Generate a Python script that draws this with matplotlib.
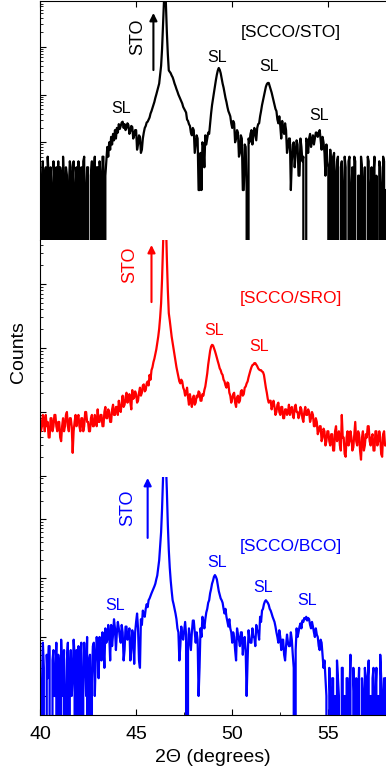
import numpy as np
import matplotlib
matplotlib.use("Agg")
import matplotlib.pyplot as plt
from matplotlib.ticker import LogLocator, MultipleLocator, NullFormatter

plt.rcParams["font.family"] = ["Liberation Sans", "DejaVu Sans"]

# 2-theta grid, 0.05 degree steps from 40 to 58
two_theta = np.linspace(40.0, 58.0, 361)

# counts, one row per degree (0 = no counts)
counts_sto = [
    3, 0, 1, 4, 0, 2, 3, 0, 5, 2, 0, 3, 1, 0, 4, 2, 0, 3, 1, 4,
    0, 3, 2, 0, 5, 1, 0, 3, 2, 0, 1, 4, 3, 0, 2, 4, 0, 1, 3, 0,
    4, 0, 2, 3, 0, 4, 5, 0, 1, 3, 3, 0, 0, 2, 4, 0, 2, 5, 0, 3,
    3, 0, 4, 2, 0, 5, 5, 0, 2, 4, 8, 5, 10, 7, 13, 9, 15, 11, 18, 12,
    20, 16, 24, 19, 22, 26, 27, 20, 24, 18, 20, 25, 23, 15, 17, 22, 21, 12, 14, 18,
    18, 7, 9, 14, 13, 6, 7, 12, 16, 20, 22, 26, 27, 30, 33, 40, 45, 52, 60, 70,
    85, 100, 120, 145, 170, 260, 400, 900, 3000, 9000, 30000, 8000, 2000, 700, 320, 300, 280, 250, 230, 200,
    170, 150, 130, 115, 100, 90, 80, 72, 65, 55, 50, 46, 42, 30, 28, 24, 22, 16, 14, 20,
    18, 6, 9, 14, 12, 1, 1, 6, 1, 10, 8, 3, 14, 9, 12, 16, 15, 25, 40, 60,
    80, 110, 150, 200, 260, 320, 360, 330, 280, 220, 170, 140, 110, 85, 70, 55, 45, 40, 35, 25,
    20, 28, 25, 10, 12, 18, 16, 5, 6, 14, 12, 1, 1, 9, 8, 1, 0, 12, 10, 15,
    18, 9, 14, 20, 15, 11, 20, 24, 25, 35, 45, 60, 75, 95, 120, 145, 165, 175, 175, 150,
    130, 110, 90, 75, 60, 50, 45, 30, 25, 35, 22, 12, 28, 18, 15, 25, 18, 6, 8, 12,
    12, 1, 4, 9, 10, 3, 6, 11, 9, 2, 2, 12, 8, 4, 5, 0, 0, 12, 10, 6,
    12, 15, 8, 11, 14, 9, 12, 16, 16, 13, 15, 18, 11, 7, 13, 10, 6, 2, 9, 4,
    3, 0, 7, 2, 0, 5, 6, 0, 2, 4, 5, 0, 0, 3, 4, 1, 0, 5, 3, 0,
    0, 4, 5, 0, 1, 3, 0, 5, 4, 0, 0, 2, 2, 0, 5, 3, 0, 1, 3, 0,
    0, 5, 4, 0, 1, 3, 0, 2, 5, 0, 2, 0, 0, 4, 3, 1, 0, 5, 4, 0,
    1,
]

counts_sro = [
    8, 5, 6, 9, 7, 5, 9, 6, 7, 4, 4, 8, 8, 5, 6, 9, 9, 6, 5, 7,
    7, 4, 3.5, 6, 8, 5, 6, 9, 10, 6, 5, 8, 8, 6, 2.3, 5, 7, 9, 6, 8,
    9, 6, 5, 8, 8, 5, 6, 10, 10, 7, 7, 5, 5, 8, 9, 6, 6, 9, 8, 6,
    11, 7, 7, 9, 9, 6, 6, 10, 12, 8, 8, 11, 10, 7, 7, 11, 13, 9, 9, 12,
    12, 9, 15, 11, 10, 14, 18, 12, 13, 17, 20, 14, 16, 19, 14, 11, 22, 16, 17, 21,
    19, 14, 15, 20, 24, 18, 20, 26, 27, 21, 22, 28, 30, 26, 38, 32, 45, 50, 60, 68,
    80, 95, 120, 150, 200, 300, 500, 1200, 4000, 12000, 40000, 10000, 2500, 800, 350, 270, 200, 150, 120, 95,
    75, 60, 50, 42, 35, 30, 28, 32, 30, 24, 22, 18, 20, 24, 17, 13, 19, 15, 12, 16,
    18, 13, 14, 18, 17, 21, 20, 15, 15, 19, 18, 22, 25, 32, 40, 55, 70, 90, 105, 112,
    110, 100, 90, 80, 70, 62, 55, 48, 45, 40, 38, 32, 30, 26, 24, 29, 28, 20, 18, 14,
    16, 19, 20, 14, 12, 17, 18, 14, 15, 21, 22, 18, 19, 24, 25, 28, 30, 35, 40, 45,
    50, 54, 55, 58, 58, 55, 52, 48, 46, 45, 45, 43, 42, 38, 30, 24, 20, 16, 14, 15,
    15, 11, 13, 15, 12, 9, 10, 13, 14, 10, 9, 12, 12, 8, 8, 11, 11, 9, 10, 13,
    9, 11, 12, 9, 8, 12, 13, 10, 10, 8, 9, 12, 11, 8, 7, 10, 12, 9, 9, 11,
    10, 7, 8, 10, 9, 6, 6, 8, 7, 4.5, 5, 6, 6, 3.5, 4, 5.5, 5, 3, 3.5, 5,
    5, 3.5, 3, 4.5, 4.5, 2.5, 2.5, 5, 6, 3.5, 4, 5, 3, 2.5, 9, 4, 4, 2.2, 2, 4,
    5, 3, 3.5, 5, 4, 2.5, 2.8, 4.5, 7, 3.5, 3, 5, 4.5, 2.5, 1.8, 4, 5, 2.5, 3, 4.5,
    4, 6, 6, 3.5, 3, 4, 4.5, 2.5, 2.5, 5, 5, 3, 3.5, 5, 4, 2.2, 2, 4.5, 5, 3,
    3,
]

counts_bco = [
    6, 0, 1, 8, 3, 0, 0, 5, 2, 7, 7, 0, 0, 4, 6, 1, 1, 8, 0, 5,
    3, 0, 9, 2, 1, 6, 0, 1, 4, 8, 0, 3, 6, 1, 2, 9, 5, 0, 6, 1,
    7, 0, 4, 8, 0, 2, 8, 3, 1, 10, 0, 4, 5, 0, 2, 7, 8, 1, 4, 10,
    6, 2, 10, 5, 4, 12, 7, 3, 14, 8, 9, 16, 11, 4, 16, 7, 11, 20, 14, 6,
    12, 18, 14, 10, 8, 16, 12, 4, 6, 15, 15, 9, 10, 14, 4, 6, 13, 10, 3.5, 12,
    18, 25, 14, 4, 3, 20, 16, 28, 24, 22, 30, 36, 32, 42, 45, 50, 55, 60, 65, 72,
    80, 95, 110, 150, 200, 350, 600, 1500, 5000, 15000, 50000, 9000, 3000, 800, 300, 150, 90, 60, 42, 36,
    30, 25, 20, 14, 12, 4, 7, 15, 10, 9, 13, 18, 11, 0, 6, 14, 9, 6, 12, 19,
    19, 12, 8, 12, 9, 1, 3, 14, 10, 22, 18, 14, 20, 26, 30, 38, 42, 55, 65, 80,
    90, 105, 112, 105, 95, 75, 60, 52, 45, 42, 38, 30, 25, 30, 22, 18, 15, 20, 14, 12,
    8, 12, 10, 6, 4, 14, 11, 9, 7, 12, 12, 5, 8, 10, 6, 1, 4, 13, 9, 8,
    8, 14, 10, 10, 7, 16, 13, 12, 9, 22, 18, 28, 30, 36, 40, 42, 40, 38, 35, 30,
    28, 25, 22, 20, 18, 15, 12, 10, 8, 13, 10, 6, 9, 9, 5, 4, 7, 11, 8, 7,
    7, 12, 9, 5, 3, 0, 6, 14, 10, 12, 15, 17, 14, 19, 18, 21, 20, 22, 19, 21,
    20, 16, 14, 18, 15, 12, 10, 14, 11, 10, 7, 6, 9, 8, 5, 3, 4, 2, 1, 0,
    0, 3, 1, 0, 2, 2, 0, 1, 0, 4, 2, 1, 0, 0, 3, 3, 0, 1, 0, 2,
    2, 0, 1, 5, 0, 0, 3, 1, 0, 2, 0, 1, 3, 0, 0, 2, 1, 0, 3, 2,
    0, 2, 4, 0, 1, 0, 2, 3, 0, 1, 3, 0, 1, 0, 5, 2, 0, 1, 2, 0,
    2,
]

series = [counts_sto, counts_sro, counts_bco]
colors = ["black", "#ff0000", "#0000ff"]
ylims = [(0.09, 9100), (0.965, 4870), (0.476, 5150)]
names = ["[SCCO/STO]", "[SCCO/SRO]", "[SCCO/BCO]"]

# SL label positions (2theta, axes fraction)
sl_labels = [
    [(44.2, 0.552), (49.2, 0.762), (51.9, 0.724), (54.5, 0.523)],
    [(49.07, 0.62), (51.4, 0.549)],
    [(43.9, 0.462), (49.2, 0.639), (51.6, 0.534), (53.9, 0.483)],
]
name_y = [0.870, 0.755, 0.710]
sto_text = [(45.08, 0.849), (44.66, 0.895), (44.56, 0.870)]
sto_arrow = [(45.9, 0.711, 0.950), (45.8, 0.738, 0.979), (45.6, 0.744, 0.996)]

fig = plt.figure(figsize=(3.86, 7.69), dpi=100)
left = 40 / 386
width = 1 - left
# panel extents in pixels (top, bottom)
extents = [(1, 240), (240, 477), (477, 715)]

axes = []
for i, (top, bot) in enumerate(extents):
    ax = fig.add_axes([left, 1 - bot / 769, width, (bot - top) / 769])
    axes.append(ax)
    ax.plot(two_theta, series[i], color=colors[i], lw=1.6)
    ax.set_yscale("log", nonpositive="clip")
    ax.set_xlim(40, 58)
    ax.set_ylim(*ylims[i])
    ax.yaxis.set_major_locator(LogLocator(base=10))
    ax.yaxis.set_minor_locator(LogLocator(base=10, subs=np.arange(2, 10)))
    ax.yaxis.set_major_formatter(NullFormatter())
    ax.yaxis.set_minor_formatter(NullFormatter())
    ax.tick_params(axis="y", which="major", direction="in", length=4, width=0.8)
    ax.tick_params(axis="y", which="minor", direction="in", length=2, width=0.6)
    ax.spines["right"].set_visible(False)
    ax.spines["top"].set_visible(i == 0)
    ax.spines["bottom"].set_visible(i == 2)

    trans = ax.get_xaxis_transform()
    for x, y in sl_labels[i]:
        ax.text(x, y, "SL", color=colors[i], fontsize=11.5,
                ha="center", va="center", transform=trans)
    ax.text(53.05, name_y[i], names[i], color=colors[i], fontsize=12.5,
            ha="center", va="center", transform=trans)
    tx, ty = sto_text[i]
    ax.text(tx, ty, "STO", color=colors[i], fontsize=13, rotation=90,
            ha="center", va="center", transform=trans)
    ax_x, y0, y1 = sto_arrow[i]
    ax.annotate("", xy=(ax_x, y1), xytext=(ax_x, y0),
                xycoords=trans, textcoords=trans,
                arrowprops=dict(arrowstyle="-|>", color=colors[i], lw=1.5,
                                mutation_scale=11, shrinkA=0, shrinkB=0))

# x axis ticks
top_ax = axes[0]
top_ax.xaxis.set_major_locator(MultipleLocator(5))
top_ax.xaxis.tick_top()
top_ax.tick_params(axis="x", which="major", direction="in", length=4,
                   labeltop=False, labelbottom=False)
axes[1].tick_params(axis="x", which="both", bottom=False, labelbottom=False)
bot_ax = axes[2]
bot_ax.xaxis.set_major_locator(MultipleLocator(5))
bot_ax.xaxis.set_minor_locator(MultipleLocator(2.5))
bot_ax.tick_params(axis="x", which="major", direction="in", length=4,
                   labelsize=14, pad=8)
bot_ax.tick_params(axis="x", which="minor", direction="in", length=2)
bot_ax.set_xlabel("2\u0398 (degrees)", fontsize=14, labelpad=4)

fig.text(0.047, 1 - 352 / 769, "Counts", rotation=90, fontsize=14,
         ha="center", va="center")

fig.savefig("out.png", dpi=100)
